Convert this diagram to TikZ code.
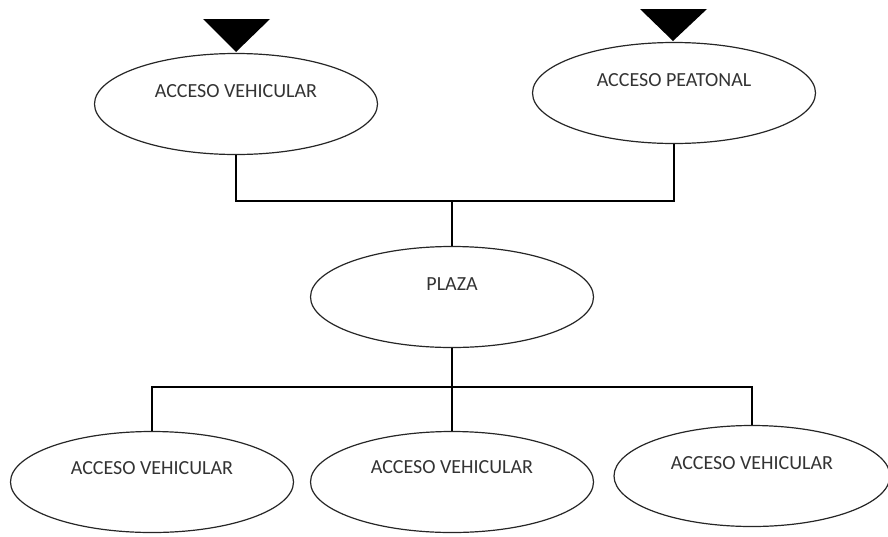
\documentclass[tikz,border=0pt]{standalone}
\usepackage{fontspec}
\setmainfont{Carlito}
\usetikzlibrary{shapes.geometric}
\begin{document}
\begin{tikzpicture}[x=1pt,y=-1pt,
  ell/.style={draw=black!85,line width=1.2pt,ellipse,fill=white,inner sep=0pt,minimum width=283pt,minimum height=101pt},
  lbl/.style={font=\fontsize{20}{24}\selectfont,text=black!80,inner sep=0pt},
  conn/.style={draw=black,line width=2.2pt},
  tri/.style={fill=black}]
\useasboundingbox (0,0) rectangle (888,536);
\coordinate (j1) at (452,201);
\coordinate (j2) at (452,387);
\node[ell] (va) at (236,104) {};
\node[ell] (pe) at (674,93) {};
\node[ell] (pl) at (452,297) {};
\node[ell] (b1) at (152,482) {};
\node[ell] (b2) at (452,482) {};
\node[ell,minimum width=276pt] (b3) at (752,476) {};
\draw[conn] (va.south) |- (j1) -| (pe.south);
\draw[conn] (j1) -- (pl.north);
\draw[conn] (pl.south) -- (j2);
\draw[conn] (b1.north) |- (j2) -| (b3.north);
\draw[conn] (j2) -- (b2.north);
\node[lbl] (tva) at ([yshift=13pt]va.center) {ACCESO VEHICULAR};
\node[lbl] (tpe) at ([yshift=13pt]pe.center) {ACCESO PEATONAL};
\node[lbl] (tpl) at ([yshift=13pt]pl.center) {PLAZA};
\node[lbl] (tb1) at ([yshift=14pt]b1.center) {ACCESO VEHICULAR};
\node[lbl] (tb2) at ([yshift=15pt]b2.center) {ACCESO VEHICULAR};
\node[lbl] (tb3) at ([yshift=13pt]b3.center) {ACCESO VEHICULAR};
\fill[tri] (203,19) -- (270,19) -- (236,52) -- cycle;
\fill[tri] (640,9) -- (707,9) -- (673,41) -- cycle;
\end{tikzpicture}
\end{document}
